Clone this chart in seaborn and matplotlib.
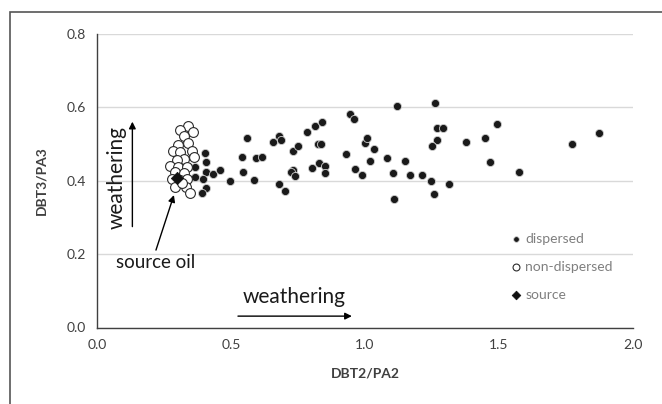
import matplotlib
matplotlib.use("Agg")
import matplotlib.pyplot as plt
from matplotlib.patches import Rectangle
import seaborn as sns
import pandas as pd

# ---- data ----
disp_x = [0.655, 0.680, 0.688, 0.732, 0.749, 0.784, 0.815, 0.840, 0.825, 0.834,
          0.928, 0.943, 0.958, 0.999, 1.009, 1.032, 1.019, 0.963, 0.990, 0.830,
          0.804, 0.850, 0.850, 0.732, 0.724, 0.738, 0.680, 0.700, 1.121, 1.081,
          1.103, 1.149, 1.169, 1.211, 1.108, 1.261, 1.267, 1.292, 1.267, 1.251,
          1.247, 1.256, 1.313, 1.376, 1.446, 1.494, 1.467, 1.575, 1.771, 1.874,
          0.366, 0.404, 0.407, 0.407, 0.432, 0.460, 0.364, 0.397, 0.407, 0.391,
          0.495, 0.541, 0.545, 0.560, 0.587, 0.592, 0.617]
disp_y = [0.505, 0.523, 0.511, 0.482, 0.496, 0.534, 0.549, 0.560, 0.501, 0.501,
          0.474, 0.583, 0.567, 0.504, 0.516, 0.486, 0.454, 0.433, 0.416, 0.448,
          0.435, 0.440, 0.421, 0.429, 0.423, 0.412, 0.391, 0.372, 0.605, 0.462,
          0.421, 0.454, 0.416, 0.416, 0.349, 0.613, 0.544, 0.544, 0.512, 0.496,
          0.398, 0.364, 0.391, 0.505, 0.516, 0.556, 0.451, 0.425, 0.500, 0.530,
          0.437, 0.476, 0.452, 0.425, 0.418, 0.429, 0.409, 0.405, 0.381, 0.367,
          0.399, 0.465, 0.425, 0.516, 0.402, 0.462, 0.465]

nondisp_x = [0.339, 0.308, 0.358, 0.326, 0.302, 0.341, 0.285, 0.310, 0.354, 0.326,
             0.298, 0.363, 0.273, 0.304, 0.335, 0.292, 0.325, 0.279, 0.310, 0.335,
             0.292, 0.333, 0.348, 0.317]
nondisp_y = [0.550, 0.538, 0.532, 0.522, 0.497, 0.502, 0.482, 0.479, 0.482, 0.458,
             0.456, 0.465, 0.440, 0.437, 0.438, 0.425, 0.420, 0.404, 0.402, 0.404,
             0.384, 0.384, 0.367, 0.393]

src_x = [0.299]
src_y = [0.408]

x_ticks = [0.0, 0.5, 1.0, 1.5, 2.0]
y_ticks = [0.0, 0.2, 0.4, 0.6, 0.8]

# ---- style ----
sns.set_style("white")
plt.rcParams["font.family"] = ["Lato", "DejaVu Sans"]

fig = plt.figure(figsize=(6.62, 4.04), dpi=100)
ax = fig.add_axes([97/662, 1-327.5/404, 536/662, 293.5/404])

df_d = pd.DataFrame({"x": disp_x, "y": disp_y})
df_n = pd.DataFrame({"x": nondisp_x, "y": nondisp_y})
df_s = pd.DataFrame({"x": src_x, "y": src_y})

sns.scatterplot(data=df_d, x="x", y="y", ax=ax, s=34, color="#1a1a1a",
                edgecolor="#d0d0d0", linewidth=0.6, label="dispersed", zorder=3)
sns.scatterplot(data=df_n, x="x", y="y", ax=ax, s=50, facecolor="white",
                edgecolor="#2a2a2a", linewidth=0.8, label="non-dispersed", zorder=4)
sns.scatterplot(data=df_s, x="x", y="y", ax=ax, s=40, marker="D", color="#111111",
                edgecolor="#111111", linewidth=0.5, label="source", zorder=5)

ax.set_xlim(0, 2.0)
ax.set_ylim(0, 0.8)
ax.set_xticks(x_ticks)
ax.set_yticks(y_ticks)
ax.set_xticklabels([f"{v:.1f}" for v in x_ticks])
ax.set_yticklabels([f"{v:.1f}" for v in y_ticks])
ax.tick_params(axis="both", length=0, labelsize=10, colors="#404040", pad=8)
ax.yaxis.grid(True, color="#d9d9d9", linewidth=1.0)
ax.xaxis.grid(False)
ax.set_axisbelow(True)
for side in ["top", "right"]:
    ax.spines[side].set_visible(False)
for side in ["left", "bottom"]:
    ax.spines[side].set_color("#404040")
    ax.spines[side].set_linewidth(1.0)

ax.set_xlabel("DBT2/PA2", fontsize=10, fontweight="bold", color="#404040", labelpad=12)
ax.set_ylabel("DBT3/PA3", fontsize=10, fontweight="bold", color="#404040", labelpad=14)

# legend
leg = ax.legend(loc="center left", bbox_to_anchor=(0.7705, 0.207), frameon=False,
                fontsize=10, labelspacing=1.15, handlelength=0.8, handletextpad=0.3,
                borderpad=0, borderaxespad=0, markerscale=0.7)
for t in leg.get_texts():
    t.set_color("#7f7f7f")

# annotations
arrow_kw = dict(arrowstyle="-|>", color="black", lw=1.0, mutation_scale=10,
                shrinkA=0, shrinkB=0)
ax.annotate("", xy=(0.132, 0.561), xytext=(0.132, 0.275), arrowprops=arrow_kw)
ax.text(0.0735, 0.41, "weathering", rotation=90, ha="center", va="center",
        fontsize=15, color="#1a1a1a")
ax.text(0.218, 0.176, "source oil", ha="center", va="center", fontsize=13.5, color="#1a1a1a")
ax.annotate("", xy=(0.287, 0.361), xytext=(0.220, 0.211), arrowprops=arrow_kw)
ax.text(0.735, 0.082, "weathering", ha="center", va="center", fontsize=15, color="#1a1a1a")
ax.annotate("", xy=(0.951, 0.031), xytext=(0.526, 0.031), arrowprops=arrow_kw)

# outer frame (partially off-canvas)
fig.patches.append(Rectangle((10/662, -0.1), 1.2, (1-12/404)+0.1, transform=fig.transFigure,
                             fill=False, edgecolor="#555555", linewidth=1.2))

fig.savefig("out.png", dpi=100)
